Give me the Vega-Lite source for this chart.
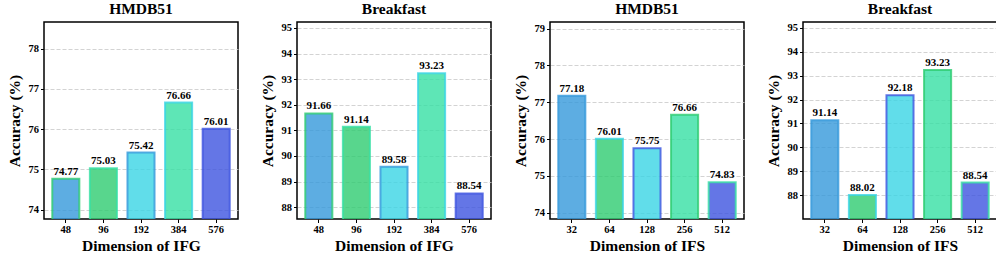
{
  "$schema": "https://vega.github.io/schema/vega-lite/v6.json",
  "padding": {"left": 6, "top": 0, "right": 4, "bottom": 2},
  "spacing": 20,
  "config": {
    "font": "Liberation Serif",
    "view": {"stroke": "black", "strokeWidth": 1.5},
    "title": {"font": "Liberation Serif", "fontSize": 15.5, "fontWeight": "bold", "color": "black", "offset": 5},
    "text": {"font": "Liberation Serif"},
    "axis": {
      "labelFont": "Liberation Serif", "labelFontWeight": "bold", "labelFontSize": 10.5, "labelColor": "black",
      "titleFont": "Liberation Serif", "titleFontWeight": "bold", "titleFontSize": 15.5, "titleColor": "black",
      "tickColor": "black", "tickSize": 3.5, "tickWidth": 1, "domain": false, "labelPadding": 2
    },
    "axisY": {"grid": true, "gridColor": "#c8c8c8", "gridDash": [4, 2], "gridWidth": 0.8, "titlePadding": 6},
    "axisX": {"grid": false, "labelAngle": 0, "titlePadding": 3}
  },
  "data": {"values": [
    {"panel": 1, "dim": 48, "acc": 74.77},
    {"panel": 1, "dim": 96, "acc": 75.03},
    {"panel": 1, "dim": 192, "acc": 75.42},
    {"panel": 1, "dim": 384, "acc": 76.66},
    {"panel": 1, "dim": 576, "acc": 76.01},
    {"panel": 2, "dim": 48, "acc": 91.66},
    {"panel": 2, "dim": 96, "acc": 91.14},
    {"panel": 2, "dim": 192, "acc": 89.58},
    {"panel": 2, "dim": 384, "acc": 93.23},
    {"panel": 2, "dim": 576, "acc": 88.54},
    {"panel": 3, "dim": 32, "acc": 77.18},
    {"panel": 3, "dim": 64, "acc": 76.01},
    {"panel": 3, "dim": 128, "acc": 75.75},
    {"panel": 3, "dim": 256, "acc": 76.66},
    {"panel": 3, "dim": 512, "acc": 74.83},
    {"panel": 4, "dim": 32, "acc": 91.14},
    {"panel": 4, "dim": 64, "acc": 88.02},
    {"panel": 4, "dim": 128, "acc": 92.18},
    {"panel": 4, "dim": 256, "acc": 93.23},
    {"panel": 4, "dim": 512, "acc": 88.54}
  ]},
  "resolve": {"scale": {"color": "independent", "y": "independent", "x": "independent"}},
  "hconcat": [
    {
      "width": 194, "height": 197,
      "title": "HMDB51",
      "transform": [{"filter": "datum.panel == 1"}],
      "encoding": {
        "x": {"field": "dim", "type": "ordinal", "title": "Dimension of IFG", "scale": {"paddingInner": 0.28, "paddingOuter": 0.22}},
        "y": {"field": "acc", "type": "quantitative", "title": "Accuracy (%)", "scale": {"domain": [73.77, 78.66], "zero": false, "nice": false}, "axis": {"values": [74, 75, 76, 77, 78]}}
      },
      "layer": [
        {"mark": {"type": "bar", "fillOpacity": 0.8, "strokeOpacity": 0.8, "strokeWidth": 2, "clip": true},
         "encoding": {
           "color": {"field": "dim", "type": "ordinal", "legend": null, "scale": {"range": ["#3498db", "#2ecc71", "#39d4e5", "#36e0a4", "#3d54e0"]}},
           "stroke": {"field": "dim", "type": "ordinal", "legend": null, "scale": {"range": ["#3498db", "#2ecc71", "#39d4e5", "#36e0a4", "#3d54e0"]}}
         }},
        {"mark": {"type": "text", "baseline": "bottom", "dy": -2, "fontWeight": "bold", "fontSize": 11, "color": "black"},
         "encoding": {"text": {"field": "acc", "type": "quantitative", "format": ".2f"}}}
      ]
    },
    {
      "width": 194, "height": 197,
      "title": "Breakfast",
      "transform": [{"filter": "datum.panel == 2"}],
      "encoding": {
        "x": {"field": "dim", "type": "ordinal", "title": "Dimension of IFG", "scale": {"paddingInner": 0.28, "paddingOuter": 0.22}},
        "y": {"field": "acc", "type": "quantitative", "title": "Accuracy (%)", "scale": {"domain": [87.54, 95.23], "zero": false, "nice": false}, "axis": {"values": [88, 89, 90, 91, 92, 93, 94, 95]}}
      },
      "layer": [
        {"mark": {"type": "bar", "fillOpacity": 0.8, "strokeOpacity": 0.8, "strokeWidth": 2, "clip": true},
         "encoding": {
           "color": {"field": "dim", "type": "ordinal", "legend": null, "scale": {"range": ["#3498db", "#2ecc71", "#39d4e5", "#36e0a4", "#3d54e0"]}},
           "stroke": {"field": "dim", "type": "ordinal", "legend": null, "scale": {"range": ["#3498db", "#2ecc71", "#39d4e5", "#36e0a4", "#3d54e0"]}}
         }},
        {"mark": {"type": "text", "baseline": "bottom", "dy": -2, "fontWeight": "bold", "fontSize": 11, "color": "black"},
         "encoding": {"text": {"field": "acc", "type": "quantitative", "format": ".2f"}}}
      ]
    },
    {
      "width": 194, "height": 197,
      "title": "HMDB51",
      "transform": [{"filter": "datum.panel == 3"}],
      "encoding": {
        "x": {"field": "dim", "type": "ordinal", "title": "Dimension of IFS", "scale": {"paddingInner": 0.28, "paddingOuter": 0.22}},
        "y": {"field": "acc", "type": "quantitative", "title": "Accuracy (%)", "scale": {"domain": [73.83, 79.18], "zero": false, "nice": false}, "axis": {"values": [74, 75, 76, 77, 78, 79]}}
      },
      "layer": [
        {"mark": {"type": "bar", "fillOpacity": 0.8, "strokeOpacity": 0.8, "strokeWidth": 2, "clip": true},
         "encoding": {
           "color": {"field": "dim", "type": "ordinal", "legend": null, "scale": {"range": ["#3498db", "#2ecc71", "#39d4e5", "#36e0a4", "#3d54e0"]}},
           "stroke": {"field": "dim", "type": "ordinal", "legend": null, "scale": {"range": ["#3498db", "#2ecc71", "#39d4e5", "#36e0a4", "#3d54e0"]}}
         }},
        {"mark": {"type": "text", "baseline": "bottom", "dy": -2, "fontWeight": "bold", "fontSize": 11, "color": "black"},
         "encoding": {"text": {"field": "acc", "type": "quantitative", "format": ".2f"}}}
      ]
    },
    {
      "width": 194, "height": 197,
      "title": "Breakfast",
      "transform": [{"filter": "datum.panel == 4"}],
      "encoding": {
        "x": {"field": "dim", "type": "ordinal", "title": "Dimension of IFS", "scale": {"paddingInner": 0.28, "paddingOuter": 0.22}},
        "y": {"field": "acc", "type": "quantitative", "title": "Accuracy (%)", "scale": {"domain": [87.02, 95.23], "zero": false, "nice": false}, "axis": {"values": [88, 89, 90, 91, 92, 93, 94, 95]}}
      },
      "layer": [
        {"mark": {"type": "bar", "fillOpacity": 0.8, "strokeOpacity": 0.8, "strokeWidth": 2, "clip": true},
         "encoding": {
           "color": {"field": "dim", "type": "ordinal", "legend": null, "scale": {"range": ["#3498db", "#2ecc71", "#39d4e5", "#36e0a4", "#3d54e0"]}},
           "stroke": {"field": "dim", "type": "ordinal", "legend": null, "scale": {"range": ["#3498db", "#2ecc71", "#39d4e5", "#36e0a4", "#3d54e0"]}}
         }},
        {"mark": {"type": "text", "baseline": "bottom", "dy": -2, "fontWeight": "bold", "fontSize": 11, "color": "black"},
         "encoding": {"text": {"field": "acc", "type": "quantitative", "format": ".2f"}}}
      ]
    }
  ]
}
